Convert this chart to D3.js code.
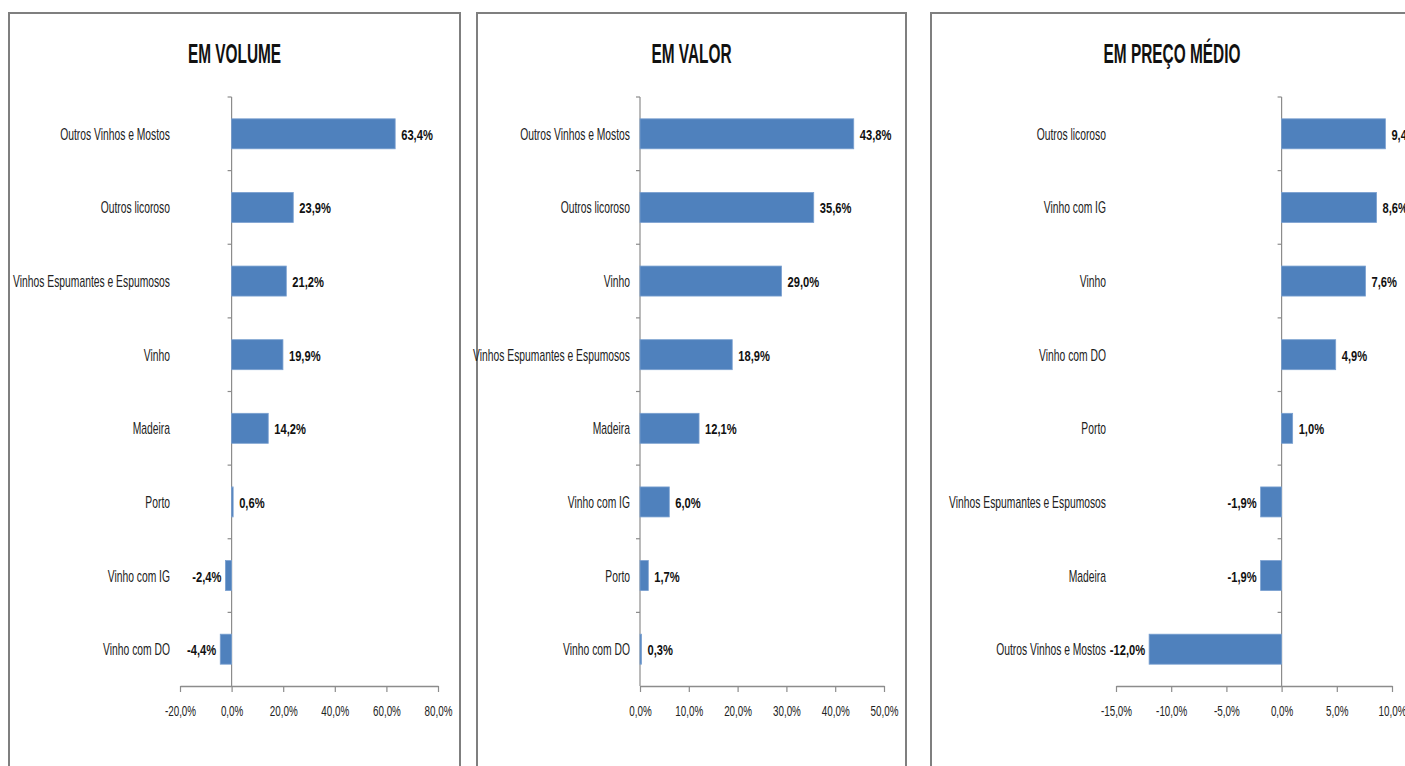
<!DOCTYPE html>
<html><head><meta charset="utf-8">
<script src="https://cdn.jsdelivr.net/npm/d3@7"></script>
<style>
html,body{margin:0;padding:0;background:#fff;overflow:hidden;}
svg{display:block;}
text{font-family:"Liberation Sans",Arial,sans-serif;}
</style></head>
<body>
<svg id="chart" width="1405" height="766"></svg>
<script>
// ---- DATA ----
const titles = ["EM VOLUME", "EM VALOR", "EM PREÇO MÉDIO"];

const volumeCategories = ["Outros Vinhos e Mostos","Outros licoroso","Vinhos Espumantes e Espumosos","Vinho","Madeira","Porto","Vinho com IG","Vinho com DO"];
const volumeValues = [63.4, 23.9, 21.2, 19.9, 14.2, 0.6, -2.4, -4.4];
const volumeTicks = [-20, 0, 20, 40, 60, 80];

const valorCategories = ["Outros Vinhos e Mostos","Outros licoroso","Vinho","Vinhos Espumantes e Espumosos","Madeira","Vinho com IG","Porto","Vinho com DO"];
const valorValues = [43.8, 35.6, 29.0, 18.9, 12.1, 6.0, 1.7, 0.3];
const valorTicks = [0, 10, 20, 30, 40, 50];

const precoCategories = ["Outros licoroso","Vinho com IG","Vinho","Vinho com DO","Porto","Vinhos Espumantes e Espumosos","Madeira","Outros Vinhos e Mostos"];
const precoValues = [9.4, 8.6, 7.6, 4.9, 1.0, -1.9, -1.9, -12.0];
const precoTicks = [-15, -10, -5, 0, 5, 10];

// ---- LAYOUT ----
const svg = d3.select("#chart");
const fmt = v => d3.format(".1f")(Math.abs(v)).replace(".", ",") + "%";
const fmtSigned = v => (v < 0 ? "-" : "") + fmt(v);

const panels = [
  {title: titles[0], cats: volumeCategories, vals: volumeValues, ticks: volumeTicks,
   box: [9, 13, 460], plot: [180, 438]},
  {title: titles[1], cats: valorCategories, vals: valorValues, ticks: valorTicks,
   box: [477, 13, 906], plot: [640, 884]},
  {title: titles[2], cats: precoCategories, vals: precoValues, ticks: precoTicks,
   box: [931, 13, 1413], plot: [1116, 1392]}
];
const plotTop = 97, plotBottom = 686;
const axisColor = "#8c8c8c";
const SX_TITLE = 0.55, SX_CAT = 0.645, SX_VAL = 0.72, SX_TICK = 0.68;

panels.forEach(p => {
  const g = svg.append("g");
  // panel border
  g.append("rect")
    .attr("x", p.box[0]).attr("y", p.box[1])
    .attr("width", p.box[2] - p.box[0]).attr("height", 800)
    .attr("fill", "none").attr("stroke", "#7f7f7f").attr("stroke-width", 2);

  g.append("text")
    .attr("transform", `translate(${(p.box[0] + p.box[2]) / 2},63) scale(${SX_TITLE},1)`)
    .attr("text-anchor", "middle")
    .attr("font-size", 28).attr("font-weight", "bold")
    .attr("fill", "#111")
    .text(p.title);

  const x = d3.scaleLinear()
    .domain([p.ticks[0], p.ticks[p.ticks.length - 1]])
    .range(p.plot);
  const yb = d3.scaleBand().domain(p.cats).range([plotTop, plotBottom]);

  // x axis
  const xa = g.append("g").attr("transform", `translate(0,${plotBottom})`)
    .call(d3.axisBottom(x).tickValues(p.ticks).tickSize(6).tickSizeOuter(0).tickFormat(""));
  xa.select(".domain").attr("stroke", axisColor).attr("stroke-width", 1.5);
  xa.selectAll(".tick line").attr("stroke", axisColor).attr("stroke-width", 1.2);
  xa.selectAll(".tick").append("text")
    .attr("transform", `translate(0,30) scale(${SX_TICK},1)`)
    .attr("text-anchor", "middle")
    .attr("font-size", 14.5).attr("fill", "#222")
    .text(d => fmtSigned(d));

  // category axis at zero
  const x0 = x(0);
  g.append("line").attr("x1", x0).attr("x2", x0).attr("y1", plotTop).attr("y2", plotBottom)
    .attr("stroke", axisColor).attr("stroke-width", 1.2);
  const bounds = p.cats.map(c => yb(c));
  g.selectAll(".ytick").data(bounds).enter().append("line")
    .attr("x1", x0 - 4).attr("x2", x0).attr("y1", d => d).attr("y2", d => d)
    .attr("stroke", axisColor).attr("stroke-width", 1.2);

  // category labels
  g.selectAll(".cat").data(p.cats).enter().append("text")
    .attr("transform", d => `translate(${p.plot[0] - 10},${yb(d) + yb.bandwidth() / 2 + 6}) scale(${SX_CAT},1)`)
    .attr("text-anchor", "end")
    .attr("font-size", 16).attr("fill", "#222")
    .text(d => d);

  // bars
  const data = p.cats.map((c, i) => ({c, v: p.vals[i]}));
  g.selectAll(".bar").data(data).enter().append("rect")
    .attr("x", d => Math.min(x(0), x(d.v)))
    .attr("y", d => yb(d.c) + yb.bandwidth() / 2 - 15)
    .attr("width", d => Math.abs(x(d.v) - x(0)))
    .attr("height", 30)
    .attr("fill", "#4f81bd").attr("stroke", "#7aa0d0").attr("stroke-width", 0.8);

  // value labels
  g.selectAll(".val").data(data).enter().append("text")
    .attr("transform", d => `translate(${d.v >= 0 ? x(d.v) + 6 : x(d.v) - 4},${yb(d.c) + yb.bandwidth() / 2 + 6}) scale(${SX_VAL},1)`)
    .attr("text-anchor", d => d.v >= 0 ? "start" : "end")
    .attr("font-size", 15.5).attr("font-weight", "bold").attr("fill", "#111")
    .text(d => fmtSigned(d.v));
});
</script>
</body></html>
